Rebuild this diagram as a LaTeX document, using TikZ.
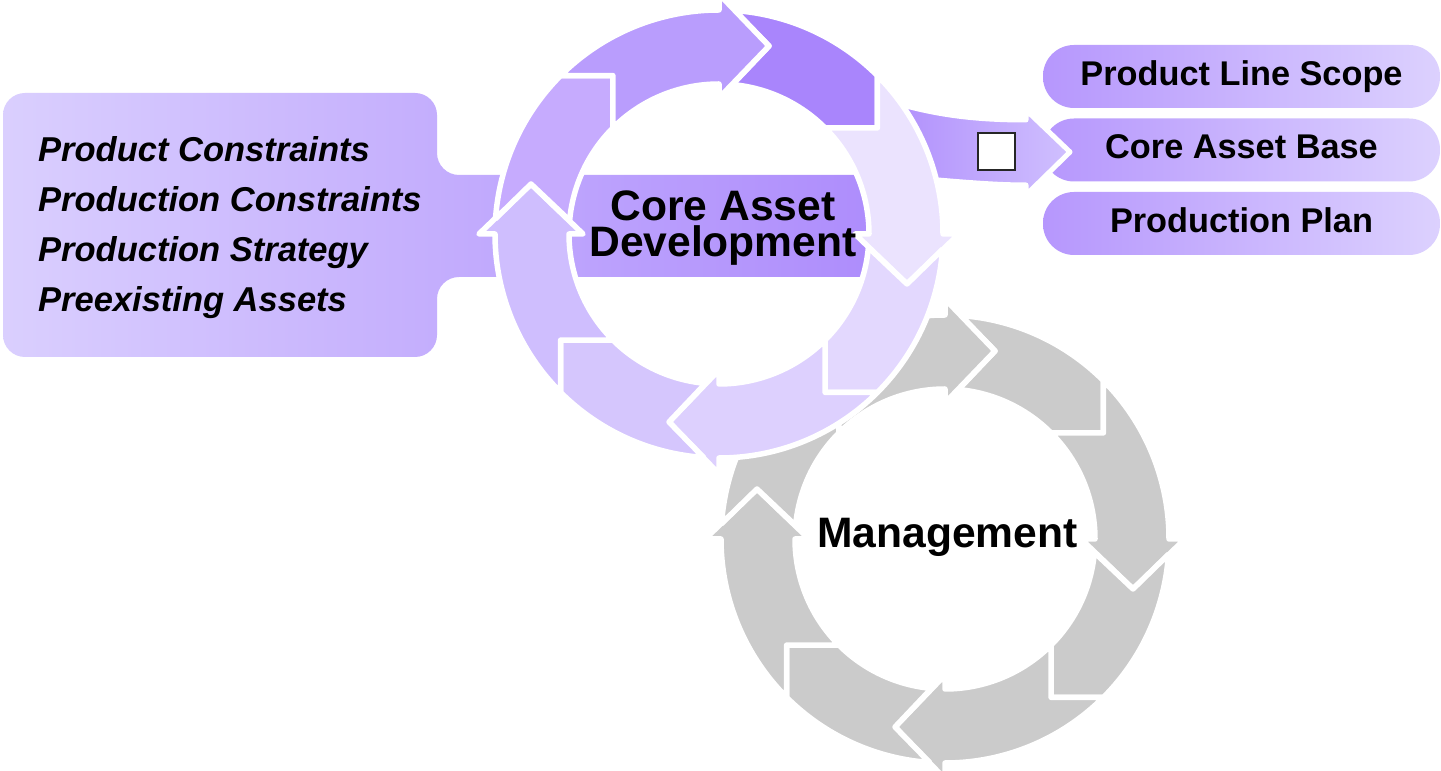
\documentclass[tikz,border=0pt]{standalone}
\usepackage{fontspec}
\setmainfont{Liberation Sans}
\usetikzlibrary{calc}
\definecolor{pA}{HTML}{A985FC}
\definecolor{pB}{HTML}{EBE3FE}
\definecolor{pC}{HTML}{E3D8FE}
\definecolor{pD}{HTML}{DDD0FE}
\definecolor{pE}{HTML}{D5C6FD}
\definecolor{pF}{HTML}{CFBEFE}
\definecolor{pG}{HTML}{C6ABFE}
\definecolor{pH}{HTML}{B99DFD}
\definecolor{gR}{HTML}{CBCBCB}
\definecolor{boxL}{HTML}{DACFFE}
\definecolor{boxR}{HTML}{AC8AFC}
\definecolor{pillL}{HTML}{B697FD}
\definecolor{pillR}{HTML}{DCD1FE}
\definecolor{arrL}{HTML}{AE8CFC}
\definecolor{arrR}{HTML}{D0C0FE}
% piece starting at a cardinal angle (notch of a big head) and ending at a chevron tip
\newcommand{\pieceHC}[3]{%
  \filldraw[fill=#3, ringedge]
    ($(#1)+(#2-3.94:224)$) arc[start angle=#2-3.94, end angle=#2-45, radius=224]
    -- ($(#1)+(#2-45:187)+(#2-135:37)$)
    -- ($(#1)+(#2-45:150)$) arc[start angle=#2-45, end angle=#2-5.14, radius=150]
    -- ($(#1)+(#2:188)+(#2-90:50)$) -- cycle;}
% piece starting at a chevron notch and ending with a big head
\newcommand{\pieceCH}[3]{%
  \filldraw[fill=#3, ringedge]
    ($(#1)+(#2:224)$) arc[start angle=#2, end angle=#2-45, radius=224]
    -- ($(#1)+(#2-45:240)$)
    -- ($(#1)+(#2-45:188)+(#2-135:50)$)
    -- ($(#1)+(#2-45:136)$)
    -- ($(#1)+(#2-45:150)$) arc[start angle=#2-45, end angle=#2, radius=150]
    -- ($(#1)+(#2:187)+(#2-90:37)$) -- cycle;}
\begin{document}
\begin{tikzpicture}[x=1pt,y=1pt,
  ringedge/.style={draw=white, line width=5.5pt, line join=round},
  itemtext/.style={anchor=base west, inner sep=0pt, font=\fontsize{34.5}{40}\selectfont\bfseries\itshape},
  titletext/.style={inner sep=0pt, font=\fontsize{42.6}{36}\selectfont\bfseries},
  pill/.style={rounded corners=31pt, minimum width=397pt, minimum height=63pt, inner sep=0pt,
    left color=pillL, right color=pillR, text height=25pt, text depth=7pt,
    font=\fontsize{34.3}{40}\selectfont\bfseries}]
\useasboundingbox (0,0) rectangle (1441,771);
\fill[white] (0,0) rectangle (1441,771);
\coordinate (CM) at (945,232);
\coordinate (CD) at (719,537);
% Management ring (grey)
\pieceHC{CM}{90}{gR}
\pieceCH{CM}{45}{gR}
\pieceHC{CM}{0}{gR}
\pieceCH{CM}{-45}{gR}
\pieceHC{CM}{-90}{gR}
\pieceCH{CM}{-135}{gR}
\pieceHC{CM}{180}{gR}
\pieceCH{CM}{135}{gR}
% input box with tab
\path[left color=boxL, right color=boxR, rounded corners=22pt]
  (3,678) -- (437,678) -- (437,596) -- (905,596) -- (905,494) -- (437,494) -- (437,414) -- (3,414) -- cycle;
% output pills
\node[pill] (pls) at (1241.5,694.5) {Product Line Scope};
\node[pill] (cab) at (1241.5,621) {Core Asset Base};
\node[pill] (pp) at (1241.5,547.5) {Production Plan};
% output arrow
\filldraw[left color=arrL, right color=arrR, draw=white, line width=5pt, line join=round]
  (880,673) .. controls (930,656) and (975,651) .. (1026,651)
  -- (1026,661) -- (1070,619) -- (1026,576) -- (1026,586)
  .. controls (990,586) and (950,590) .. (880,596) -- cycle;
\node[draw=black!85, line width=1.5pt, fill=white, minimum size=37pt, inner sep=0pt] (sq) at (996.5,619.5) {};
% Core Asset Development ring
\pieceHC{CD}{90}{pA}
\pieceCH{CD}{45}{pB}
\pieceHC{CD}{0}{pC}
\pieceCH{CD}{-45}{pD}
\pieceHC{CD}{-90}{pE}
\pieceCH{CD}{-135}{pF}
\pieceHC{CD}{180}{pG}
\pieceCH{CD}{135}{pH}
% texts
\node[itemtext] (t1) at (38,609) {Product Constraints};
\node[itemtext] (t2) at (38,559) {Production Constraints};
\node[itemtext] (t3) at (38,509) {Production Strategy};
\node[itemtext] (t4) at (38,459) {Preexisting Assets};
\node[titletext, align=center] (cad) at (723,542.5) {Core Asset\\Development};
\node[titletext, anchor=base] (mgt) at (947.5,223) {Management};
\end{tikzpicture}
\end{document}
